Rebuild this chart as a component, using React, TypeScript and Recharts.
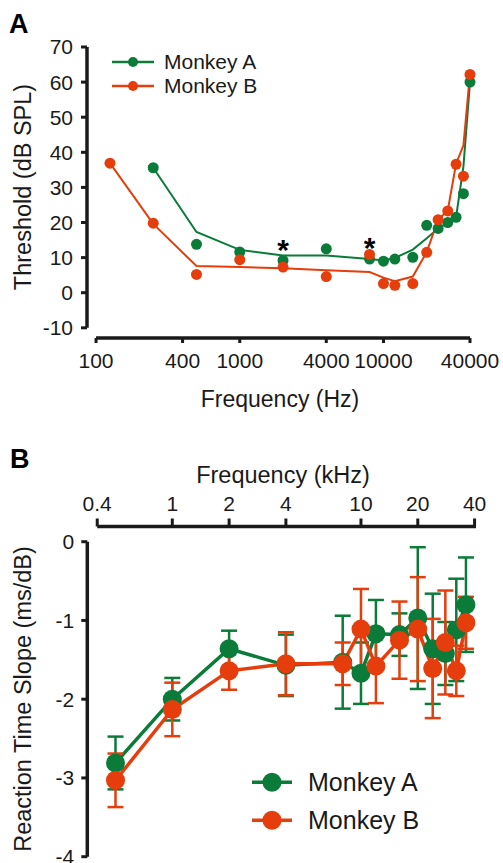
import React from 'react';
import {
  ComposedChart,
  Line,
  Scatter,
  XAxis,
  YAxis,
  ReferenceLine,
  ErrorBar,
  Legend,
} from 'recharts';

const FONT = "'Liberation Sans', Arial, Helvetica, sans-serif";
const GREEN = '#0b7b39';
const ORANGE = '#e63d0c';
const INK = '#1a1a1a';

const seriesNames = ['Monkey A', 'Monkey B'];
const seriesColors = [GREEN, ORANGE];

// ---------- Panel A: thresholds ----------
const freqMonkeyA = [250, 500, 1000, 2000, 4000, 8000, 10000, 12000, 16000, 20000, 24000, 28000, 32000, 36000, 40000];
const thresholdMonkeyA = [35.6, 13.8, 11.6, 9.2, 12.5, 9.6, 9.0, 9.6, 10.1, 19.2, 18.3, 20.0, 21.5, 28.2, 60.0];
const fitMonkeyA = [35.6, 17.3, 12.2, 10.6, 10.6, 9.6, 9.2, 9.9, 12.3, 15.5, 18.3, 19.9, 21.5, 36.0, 60.0];

const freqMonkeyB = [125, 250, 500, 1000, 2000, 4000, 8000, 10000, 12000, 16000, 20000, 24000, 28000, 32000, 36000, 40000];
const thresholdMonkeyB = [36.9, 19.8, 5.2, 9.4, 7.3, 4.6, 10.9, 2.6, 2.1, 2.6, 11.5, 20.8, 23.3, 36.6, 33.2, 62.2];
const fitMonkeyB = [36.9, 19.6, 7.6, 7.3, 7.0, 6.4, 5.9, 4.3, 3.3, 4.6, 11.6, 20.8, 23.4, 36.7, 42.0, 62.4];

const starFreqs = [2000, 8000];
const starLevels = [14.1, 14.7];

const thresholdTicks = [-10, 0, 10, 20, 30, 40, 50, 60, 70];
const hzTicks = [100, 400, 1000, 4000, 10000, 40000];

const A_XMIN = 86.5;
const A_XMAX = 40000;
const A_YMIN = -12.9;
const A_YMAX = 70;

// ---------- Panel B: reaction time slope ----------
const kHz = [0.5, 1, 2, 4, 8, 10, 12, 16, 20, 24, 28, 32, 36];
const slopeMonkeyA = [-2.81, -2.0, -1.36, -1.57, -1.53, -1.67, -1.17, -1.18, -0.97, -1.36, -1.42, -1.12, -0.8];
const errMonkeyA = [0.335, 0.27, 0.23, 0.39, 0.59, 0.39, 0.43, 0.27, 0.9, 0.7, 0.4, 0.65, 0.6];
const slopeMonkeyB = [-3.03, -2.13, -1.64, -1.55, -1.55, -1.11, -1.58, -1.25, -1.11, -1.61, -1.28, -1.64, -1.03];
const errMonkeyB = [0.34, 0.34, 0.24, 0.4, 0.27, 0.51, 0.47, 0.49, 0.66, 0.63, 0.66, 0.32, 0.33];

const slopeTicks = [-4, -3, -2, -1, 0];
const kHzTicks = [0.4, 1, 2, 4, 10, 20, 40];

const B_XMIN = 0.3544;
const B_XMAX = 40.7;
const B_YMIN = -4;
const B_YMAX = 0.193;

const tickStyle = { fontSize: 21, fill: INK, fontFamily: FONT };
const tickLineStyle = { stroke: INK, strokeWidth: 3 };

function LegendRows(props: {
  lineW: number;
  r: number;
  stroke: number;
  font: number;
  rowH: number;
  gap: number;
}) {
  const { lineW, r, stroke, font, rowH, gap } = props;
  return (
    <div style={{ fontFamily: FONT }}>
      {seriesNames.map((name, i) => (
        <div key={name} style={{ display: 'flex', alignItems: 'center', height: rowH }}>
          <svg width={lineW} height={rowH} style={{ display: 'block' }}>
            <line x1={0} x2={lineW} y1={rowH / 2} y2={rowH / 2} stroke={seriesColors[i]} strokeWidth={stroke} />
            <circle cx={lineW / 2} cy={rowH / 2} r={r} fill={seriesColors[i]} />
          </svg>
          <span
            style={{
              marginLeft: gap,
              fontSize: font,
              color: INK,
              lineHeight: rowH + 'px',
              whiteSpace: 'nowrap',
            }}
          >
            {name}
          </span>
        </div>
      ))}
    </div>
  );
}

function ChartA() {
  const dotsA = freqMonkeyA.map((f, i) => ({ f, v: thresholdMonkeyA[i] }));
  const dotsB = freqMonkeyB.map((f, i) => ({ f, v: thresholdMonkeyB[i] }));
  const lineA = freqMonkeyA.map((f, i) => ({ f, v: fitMonkeyA[i] }));
  const lineB = freqMonkeyB.map((f, i) => ({ f, v: fitMonkeyB[i] }));
  const stars = starFreqs.map((f, i) => ({ f, v: starLevels[i] }));

  return (
    <ComposedChart width={503} height={420} margin={{ top: 47, right: 33, bottom: 42, left: 27 }}>
      <XAxis
        type="number"
        dataKey="f"
        scale="log"
        domain={[A_XMIN, A_XMAX]}
        ticks={hzTicks}
        interval={0}
        height={40}
        axisLine={false}
        tickLine={tickLineStyle}
        tickSize={5}
        tickMargin={10}
        tick={tickStyle}
        label={() => (
          <text x={280} y={407} textAnchor="middle" fontSize={23} fill={INK} fontFamily={FONT}>
            Frequency (Hz)
          </text>
        )}
      />
      <YAxis
        type="number"
        dataKey="v"
        domain={[A_YMIN, A_YMAX]}
        ticks={thresholdTicks}
        interval={0}
        width={60}
        axisLine={false}
        tickLine={tickLineStyle}
        tickSize={6}
        tickMargin={8}
        tick={tickStyle}
        label={() => (
          <text
            x={31}
            y={187}
            transform="rotate(-90 31 187)"
            textAnchor="middle"
            fontSize={23.5}
            fill={INK}
            fontFamily={FONT}
          >
            Threshold (dB SPL)
          </text>
        )}
      />
      <ReferenceLine
        segment={[{ x: 100, y: A_YMIN }, { x: A_XMAX, y: A_YMIN }]}
        stroke={INK}
        strokeWidth={3.5}
        ifOverflow="visible"
      />
      <ReferenceLine
        segment={[{ x: A_XMIN, y: -10 }, { x: A_XMIN, y: A_YMAX }]}
        stroke={INK}
        strokeWidth={3.5}
        ifOverflow="visible"
      />
      <Line data={lineA} dataKey="v" stroke={GREEN} strokeWidth={2} dot={false} activeDot={false} isAnimationActive={false} />
      <Line data={lineB} dataKey="v" stroke={ORANGE} strokeWidth={2} dot={false} activeDot={false} isAnimationActive={false} />
      <Scatter
        data={dotsA}
        fill={GREEN}
        isAnimationActive={false}
        shape={(p: any) => <circle cx={p.cx} cy={p.cy} r={5.5} fill={GREEN} />}
      />
      <Scatter
        data={dotsB}
        fill={ORANGE}
        isAnimationActive={false}
        shape={(p: any) => <circle cx={p.cx} cy={p.cy} r={5.5} fill={ORANGE} />}
      />
      <Scatter
        data={stars}
        fill={INK}
        isAnimationActive={false}
        shape={(p: any) => (
          <text x={p.cx} y={p.cy + 17} textAnchor="middle" fontSize={30} fontWeight="bold" fill="#000" fontFamily={FONT}>
            *
          </text>
        )}
      />
      <Legend
        layout="vertical"
        align="center"
        verticalAlign="middle"
        wrapperStyle={{ left: 112, top: 50, width: 'auto' }}
        content={() => <LegendRows lineW={42} r={5} stroke={2.5} font={21} rowH={24} gap={10} />}
      />
    </ComposedChart>
  );
}

function ChartB() {
  const dataA = kHz.map((k, i) => ({ f: k, v: slopeMonkeyA[i], e: errMonkeyA[i] }));
  const dataB = kHz.map((k, i) => ({ f: k, v: slopeMonkeyB[i], e: errMonkeyB[i] }));

  return (
    <ComposedChart width={503} height={423} margin={{ top: 46.5, right: 27, bottom: 6.3, left: 27.3 }}>
      <XAxis
        type="number"
        dataKey="f"
        scale="log"
        orientation="top"
        domain={[B_XMIN, B_XMAX]}
        ticks={kHzTicks}
        interval={0}
        height={40}
        axisLine={false}
        tickLine={tickLineStyle}
        tickSize={8}
        tickMargin={8}
        tick={tickStyle}
        label={() => (
          <text x={283} y={42.7} textAnchor="middle" fontSize={23.5} fill={INK} fontFamily={FONT}>
            Frequency (kHz)
          </text>
        )}
      />
      <YAxis
        type="number"
        dataKey="v"
        domain={[B_YMIN, B_YMAX]}
        ticks={slopeTicks}
        interval={0}
        width={60}
        axisLine={false}
        tickLine={tickLineStyle}
        tickSize={6}
        tickMargin={7}
        tick={tickStyle}
        label={() => (
          <text
            x={31}
            y={259}
            transform="rotate(-90 31 259)"
            textAnchor="middle"
            fontSize={23.5}
            fill={INK}
            fontFamily={FONT}
          >
            Reaction Time Slope (ms/dB)
          </text>
        )}
      />
      <ReferenceLine
        segment={[{ x: 0.4, y: B_YMAX }, { x: B_XMAX, y: B_YMAX }]}
        stroke={INK}
        strokeWidth={3.5}
        ifOverflow="visible"
      />
      <ReferenceLine
        segment={[{ x: B_XMIN, y: B_YMIN }, { x: B_XMIN, y: 0 }]}
        stroke={INK}
        strokeWidth={3.5}
        ifOverflow="visible"
      />
      <Line
        data={dataA}
        dataKey="v"
        stroke={GREEN}
        strokeWidth={3.5}
        dot={{ r: 9.5, fill: GREEN, stroke: GREEN, strokeWidth: 0 }}
        activeDot={false}
        isAnimationActive={false}
      >
        <ErrorBar dataKey="e" direction="y" width={8} stroke={GREEN} strokeWidth={2.5} isAnimationActive={false} />
      </Line>
      <Line
        data={dataB}
        dataKey="v"
        stroke={ORANGE}
        strokeWidth={3.5}
        dot={{ r: 9.5, fill: ORANGE, stroke: ORANGE, strokeWidth: 0 }}
        activeDot={false}
        isAnimationActive={false}
      >
        <ErrorBar dataKey="e" direction="y" width={8} stroke={ORANGE} strokeWidth={2.5} isAnimationActive={false} />
      </Line>
      <Legend
        layout="vertical"
        align="center"
        verticalAlign="middle"
        wrapperStyle={{ left: 252, top: 323, width: 'auto' }}
        content={() => <LegendRows lineW={40} r={9.5} stroke={3.5} font={25} rowH={38.4} gap={16} />}
      />
    </ComposedChart>
  );
}

export default function App() {
  return (
    <div
      style={{
        position: 'absolute',
        left: 0,
        top: 0,
        width: 503,
        height: 863,
        background: '#fff',
        fontFamily: FONT,
      }}
    >
      <div style={{ position: 'absolute', left: 0, top: 0 }}>
        <ChartA />
      </div>
      <div style={{ position: 'absolute', left: 0, top: 440 }}>
        <ChartB />
      </div>
      <svg
        width={503}
        height={863}
        style={{ position: 'absolute', left: 0, top: 0, pointerEvents: 'none' }}
      >
        <text x={9} y={33} fontSize={27} fontWeight="bold" fill="#000" fontFamily={FONT}>
          A
        </text>
        <text x={10} y={468} fontSize={27} fontWeight="bold" fill="#000" fontFamily={FONT}>
          B
        </text>
      </svg>
    </div>
  );
}
